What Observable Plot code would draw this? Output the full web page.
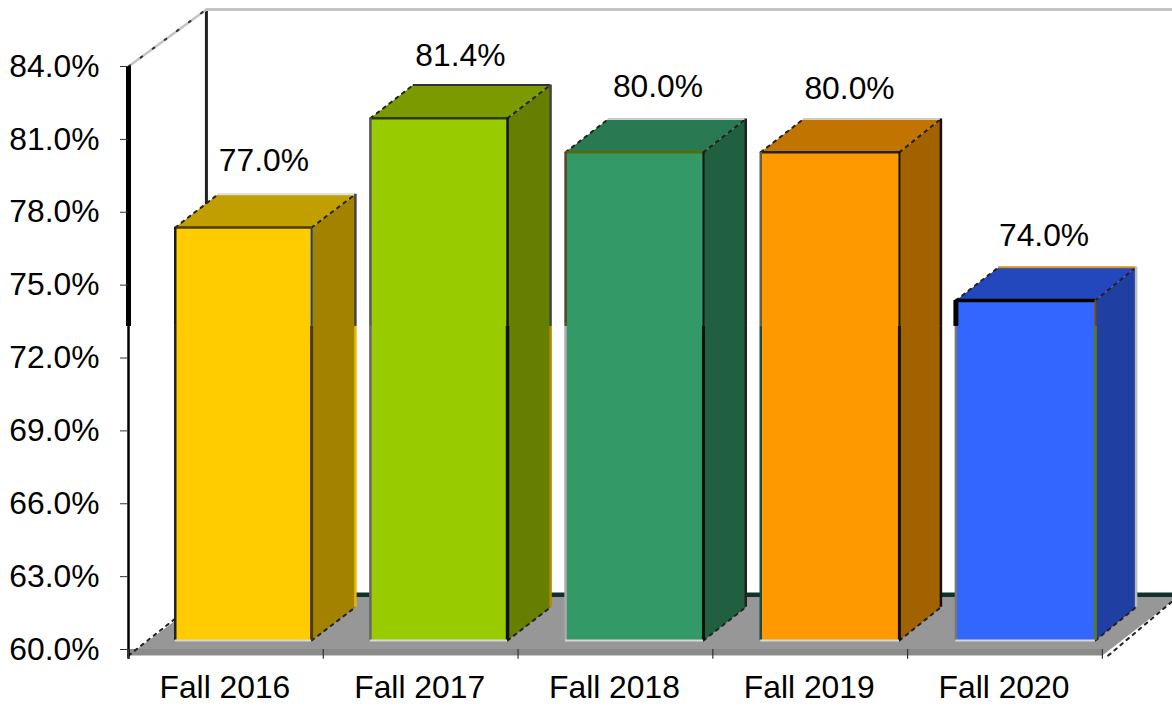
<!DOCTYPE html>
<html><head><meta charset="utf-8">
<script src="https://cdn.jsdelivr.net/npm/d3@7"></script>
<script src="https://cdn.jsdelivr.net/npm/@observablehq/plot@0.6"></script>
<style>html,body{margin:0;padding:0;background:#fff}svg{display:block}</style>
</head><body><div id="chart"></div>
<script>
const categories = ["Fall 2016","Fall 2017","Fall 2018","Fall 2019","Fall 2020"];
const values = [77.0, 81.5, 80.1, 80.1, 74.0];
const valueLabels = ["77.0%","81.4%","80.0%","80.0%","74.0%"];
const frontColors = ["#FFCC00","#99CC00","#339966","#FF9900","#3366FF"];
const sideColors  = ["#A38200","#667F00","#206040","#A36200","#1F3FA3"];
const topColors   = ["#C29F00","#7A9A00","#297A52","#C27400","#2347BD"];
const yTicks = [60,63,66,69,72,75,78,81,84];

// 3-D projection, in data units
const depthY = 1.37, lift = 0.37, seam = 73.3, xMax = 5.36;
const wallX = 0.4, wallTop = 86.35, floorBack = 62.14, floorFront = 59.75;
const leftAt  = i => i*1.002 + 0.24;
const rightAt = i => i*1.006 + 0.94;
const backAt  = i => i*1.002 + 1.165;
const backLeftAt = i => leftAt(i) + 0.22;

// edge colours: the reference changes them at the seam
const edgeLeftUpper  = ["#1c1c1c","#555","#5a4520","#6b5a3a","#000"];
const edgeLeftLower  = ["#222","#666","#aaa","#1c4a3a","#777"];
const edgeLeftW      = [2.5,2.5,2.5,2.5,5];
const edgeRightUpper = ["#1f3f8f","#111","#111","#111","#7a4a00"];
const edgeRightLower = ["#4a3a00","#111","#111","#111","#5a7a20"];
const edgeRightW     = [2,2.5,2,2,2];
const backUpper      = ["#444","#444","#222","#111","#bbb"];
const backLower      = ["#E6B800","#B08A00","#222","#111","#bbb"];
const topFrontEdge   = ["#4a3a00","#2a3a00","#5a6a00","#222","#000"];
const topBackEdge    = ["#ddd","#333","#ccc","#ccc","#D09020"];

const faces = [], dashes = [], fronts = [], segs = [], topEdges = [];
categories.forEach((c,i)=>{
  const l=leftAt(i), r=rightAt(i), k=backAt(i), kl=backLeftAt(i), b=60+lift, t=values[i]+lift;
  const poly=(n,color,pts)=>pts.concat([pts[0]]).forEach(p=>faces.push({id:n+i,color,x:p[0],y:p[1]}));
  poly("side",sideColors[i],[[r,b],[r,t],[k,t+depthY],[k,b+depthY]]);
  poly("top",topColors[i],[[l,t],[r,t],[k,t+depthY],[kl,t+depthY]]);
  fronts.push({l,r,b,t,color:frontColors[i]});
  [[l,t,kl,t+depthY],[r,t,k,t+depthY],[r,b,k,b+depthY]].forEach((e,j)=>{
    dashes.push({id:`${i}-${j}`,x:e[0],y:e[1]});dashes.push({id:`${i}-${j}`,x:e[2],y:e[3]});
  });
  const s=Math.min(seam,t);
  segs.push({x:l,y1:b,y2:s,stroke:edgeLeftLower[i],w:2.5});
  segs.push({x:l,y1:s,y2:t,stroke:edgeLeftUpper[i],w:edgeLeftW[i]});
  segs.push({x:r,y1:b,y2:s,stroke:edgeRightLower[i],w:edgeRightW[i]+1});
  segs.push({x:r,y1:s,y2:t,stroke:edgeRightUpper[i],w:edgeRightW[i]});
  segs.push({x:k,y1:b+depthY,y2:s,stroke:backLower[i],w:2.5});
  segs.push({x:k,y1:s,y2:t+depthY,stroke:backUpper[i],w:2.5});
  topEdges.push({x1:l,x2:r,y:t,stroke:topFrontEdge[i],w:i==4?3.5:2.5});
  topEdges.push({x1:kl,x2:k,y:t+depthY,stroke:topBackEdge[i],w:2});
});
const floor = [[0,floorFront],[5,floorFront],[xMax,floorBack-0.15],[xMax,floorBack],[wallX,floorBack],[0,floorFront]]
  .map(([x,y])=>({x,y}));
const floorEdges = [
  {id:"l",x:0,y:floorFront},{id:"l",x:leftAt(0),y:60+lift+0.9},
  {id:"r",x:5.03,y:floorFront},{id:"r",x:xMax,y:floorBack-0.15}];
const nudgeX = [-1,0,2,-2,-3], nudgeY = [-3,2,-1,1,-1];   // hand placement of the labels, in px
const labelData = categories.map((c,i)=>({
  x:(leftAt(i)+rightAt(i))/2+0.11+nudgeX[i]/194.78,
  y:values[i]+lift+(64-nudgeY[i])/24.29,
  t:valueLabels[i]}));
const font = "'Liberation Sans',Arial,sans-serif";

const chart = Plot.plot({
  width:1172,height:706,marginLeft:128,marginRight:0,marginTop:66,marginBottom:57,
  style:{fontFamily:font,background:"#fff",color:"#000"},
  x:{domain:[0,xMax],axis:null},
  y:{domain:[60,84],axis:null},
  color:{type:"identity"},
  marks:[
    // back wall
    Plot.ruleX([wallX],{y1:floorBack,y2:wallTop,stroke:"#222",strokeWidth:3}),
    Plot.ruleY([wallTop],{x1:wallX,x2:xMax,stroke:"#c4c4c4",strokeWidth:3}),
    Plot.line([{x:0,y:84},{x:wallX,y:wallTop}],{x:"x",y:"y",stroke:"#c4c4c4",strokeWidth:2.5}),
    Plot.line([{x:0,y:84},{x:wallX,y:wallTop}],{x:"x",y:"y",stroke:"#333",strokeWidth:2,strokeDasharray:"2 13"}),
    // floor
    Plot.ruleY([floorBack+0.1],{x1:wallX,x2:xMax,stroke:"#13302A",strokeWidth:5}),
    Plot.line(floor,{x:"x",y:"y",fill:"#979797"}),
    Plot.rectY([{}],{x1:0,x2:5,y1:floorFront,y2:60,fill:"#8A8A8A"}),
    Plot.line(floorEdges,{x:"x",y:"y",z:"id",stroke:"#222",strokeWidth:2,strokeDasharray:"3 5"}),
    // left axis
    Plot.ruleX([0],{y1:59.6,y2:seam,stroke:"#000",strokeWidth:2.5}),
    Plot.ruleX([0],{y1:seam,y2:84,stroke:"#000",strokeWidth:5}),
    Plot.ruleX(d3.range(0,6),{y1:59.6,y2:60,stroke:"#333",strokeWidth:1.2}),
    Plot.axisY({ticks:yTicks,tickSize:8,tickPadding:21,fontSize:31.8,tickFormat:d=>d.toFixed(1)+"%",label:null,stroke:"#333"}),
    Plot.axisX({ticks:categories.map((c,i)=>i+0.5),tickSize:0,tickPadding:26,fontSize:31.8,dx:-1,tickFormat:(d)=>categories[Math.floor(d)],label:null}),
    // bars
    Plot.line(faces,{x:"x",y:"y",z:"id",fill:"color",stroke:"none"}),
    Plot.rect(fronts,{x1:"l",x2:"r",y1:"b",y2:"t",fill:"color"}),
    Plot.line(dashes,{x:"x",y:"y",z:"id",stroke:"#222",strokeWidth:2,strokeDasharray:"3 5"}),
    Plot.ruleY(topEdges,{x1:"x1",x2:"x2",y:"y",stroke:"stroke",strokeWidth:"w"}),
    Plot.ruleX(segs,{x:"x",y1:"y1",y2:"y2",stroke:"stroke",strokeWidth:"w"}),
    Plot.ruleY(fronts,{x1:"l",x2:"r",y:"b",stroke:"#d8d8d8",strokeWidth:2}),
    // value labels
    Plot.text(labelData,{x:"x",y:"y",text:"t",fontSize:31.8,fill:"#000"})
  ]
});
document.getElementById("chart").append(chart);
</script></body></html>
